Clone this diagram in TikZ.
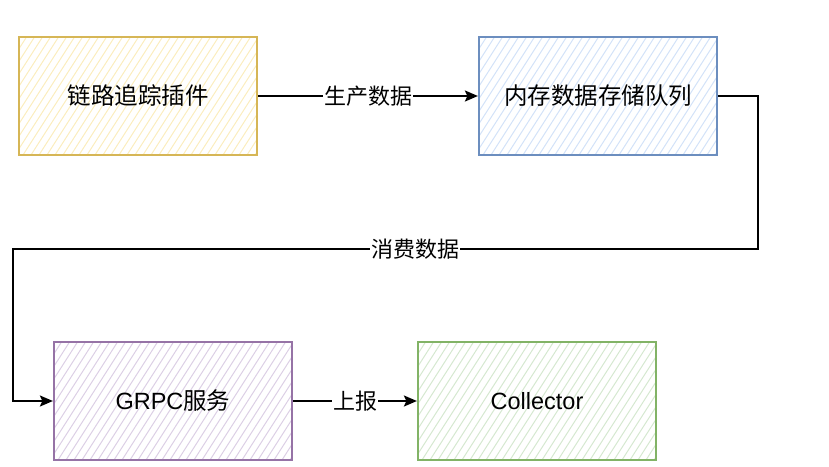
\documentclass[tikz,border=0pt]{standalone}
\usepackage{fontspec}
\setmainfont{Liberation Sans}
\newfontfamily\cjk{Noto Sans CJK SC}
\usepackage{tikz}
\usetikzlibrary{arrows.meta}
\definecolor{plugline}{HTML}{D6B656}
\definecolor{plughatch}{HTML}{FBEDBE}
\definecolor{queueline}{HTML}{6C8EBF}
\definecolor{queuehatch}{HTML}{D3E2F8}
\definecolor{grpcline}{HTML}{9673A6}
\definecolor{grpchatch}{HTML}{DCCFE5}
\definecolor{collline}{HTML}{82B366}
\definecolor{collhatch}{HTML}{D5E8D0}
\tikzset{
  hatch/.style ={path picture={%
                   \foreach \k in {-84,-76,...,244}
                     \draw[#1,line width=1pt]
                       ([xshift=\k pt]path picture bounding box.south west) -- ++(80pt,125pt);}},
  box/.style   ={rectangle,minimum width=238pt,minimum height=118pt,line width=2.2pt,
                 inner sep=0pt,align=center,font=\fontsize{23.5}{28}\selectfont},
  plugbox/.style ={box,draw=plugline,hatch=plughatch},
  queuebox/.style={box,draw=queueline,hatch=queuehatch},
  grpcbox/.style ={box,draw=grpcline,hatch=grpchatch},
  collbox/.style ={box,draw=collline,hatch=collhatch},
  flow/.style  ={-{Stealth[length=13pt,width=11pt,inset=2.5pt]},line width=2pt,draw=black},
  lbl/.style   ={fill=white,inner sep=1pt,font=\cjk\fontsize{22}{26}\selectfont}
}
\begin{document}
\begin{tikzpicture}[x=1pt,y=-1pt]
  \useasboundingbox (0,0) rectangle (829,466);
  % the four stages
  \node[plugbox]  (plugin) at (138,96)  {\cjk 链路追踪插件};
  \node[queuebox] (queue)  at (598,96)  {\cjk 内存数据存储队列};
  \node[grpcbox]  (grpc)   at (173,401) {GRPC{\cjk 服务}};
  \node[collbox]  (coll)   at (537,401) {Collector};
  % corners of the long return line
  \coordinate (turnR) at (758,249);
  \coordinate (turnL) at (13,249);
  \draw[flow] (plugin) -- node[lbl]{生产数据} (queue);
  \draw[flow] (queue.east) -| (turnR) -- node[lbl,pos=0.46]{消费数据} (turnL) |- (grpc.west);
  \draw[flow] (grpc) -- node[lbl]{上报} (coll);
\end{tikzpicture}
\end{document}
